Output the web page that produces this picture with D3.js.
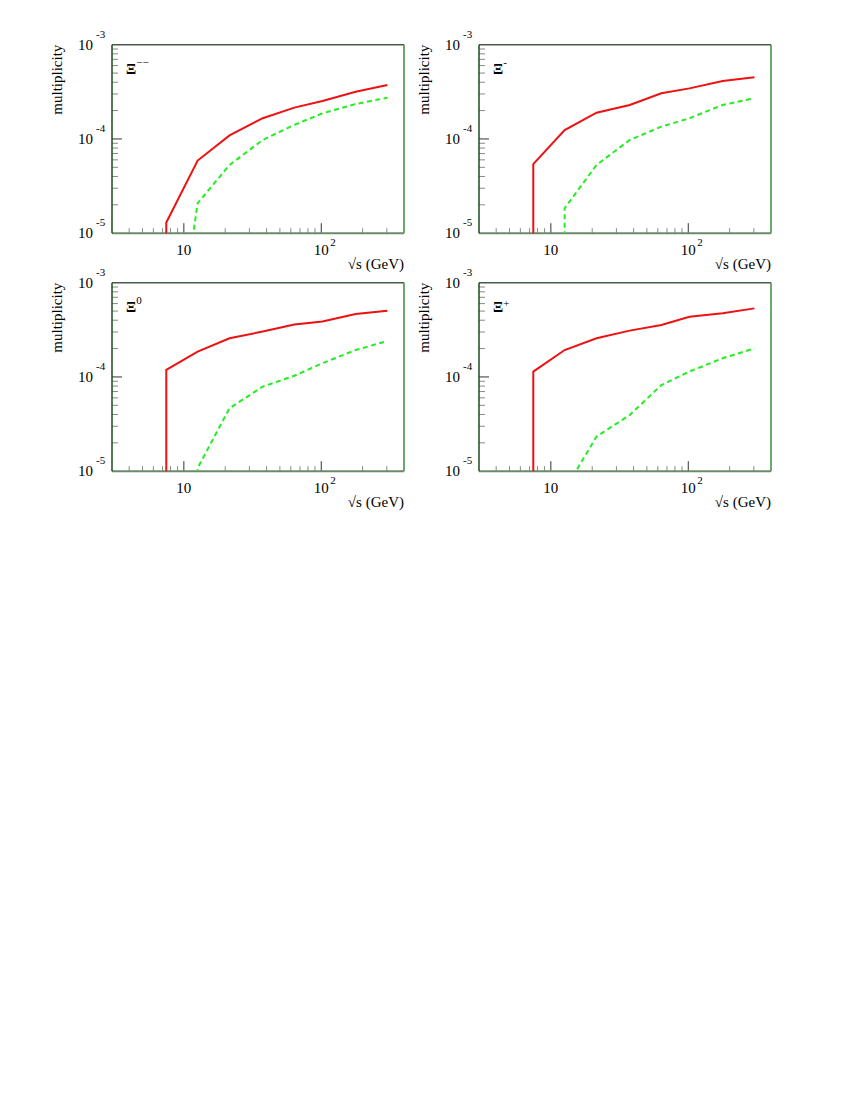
<!DOCTYPE html>
<html>
  <head>
    <meta charset="UTF-8" />
    <script src="https://cdn.jsdelivr.net/npm/d3@7"></script>
    <title>Xi multiplicity</title>
    <style type="text/css">
      body { margin: 0; background: #fff; }
      text { font-family: "Liberation Serif", "DejaVu Serif", serif; fill: #000; }
    </style>
  </head>
  <body>
    <div id="chartcontainer"></div>
    <script>
      // sqrt(s) points in GeV shared by all curves
      var sqrtS = [7.45, 12.6, 21.5, 37.5, 63.7, 102, 178, 303];

      // red solid curves (null = no value at that energy)
      var redXiMM = [1.3e-5, 5.9e-5, 1.09e-4, 1.66e-4, 2.15e-4, 2.53e-4, 3.17e-4, 3.73e-4];
      var redXiM = [5.4e-5, 1.24e-4, 1.9e-4, 2.29e-4, 3.05e-4, 3.44e-4, 4.12e-4, 4.51e-4];
      var redXi0 = [1.19e-4, 1.86e-4, 2.57e-4, 3.03e-4, 3.61e-4, 3.87e-4, 4.66e-4, 5.05e-4];
      var redXiP = [1.14e-4, 1.93e-4, 2.57e-4, 3.1e-4, 3.56e-4, 4.36e-4, 4.73e-4, 5.34e-4];

      // green dashed curves
      var greenXiMM = [1e-7, 2.08e-5, 5.3e-5, 9.75e-5, 1.41e-4, 1.87e-4, 2.35e-4, 2.74e-4];
      var greenXiM = [null, 1.84e-5, 5.3e-5, 9.75e-5, 1.35e-4, 1.66e-4, 2.29e-4, 2.7e-4];
      var greenXi0 = [null, 1.08e-5, 4.66e-5, 7.9e-5, 1.03e-4, 1.4e-4, 1.93e-4, 2.41e-4];
      var greenXiP = [null, 6.3e-6, 2.33e-5, 3.95e-5, 8.2e-5, 1.14e-4, 1.58e-4, 2.01e-4];

      var particles = ["\u2212\u2212", "-", "0", "+"];
      var yTickExp = [-3, -4, -5];

      var panels = [
        { left: 112, top: 44.7, label: particles[0], red: redXiMM, green: greenXiMM },
        { left: 479, top: 44.7, label: particles[1], red: redXiM, green: greenXiM },
        { left: 112, top: 282.7, label: particles[2], red: redXi0, green: greenXi0 },
        { left: 479, top: 282.7, label: particles[3], red: redXiP, green: greenXiP },
      ];

      var width = 292,
        height = 188.5;

      var svg = d3
        .select("#chartcontainer")
        .append("svg")
        .attr("width", 850)
        .attr("height", 1100);

      var x = d3.scaleLog().domain([3, 400]).range([0, width]);
      var y = d3.scaleLog().domain([1e-5, 1e-3]).range([height, 0]);

      var line = d3
        .line()
        .x(function (d) {
          return x(d[0]);
        })
        .y(function (d) {
          return y(d[1]);
        });

      // turn a value array into points; curve starts with a drop to the floor
      function toPoints(vals) {
        var pts = [];
        vals.forEach(function (v, i) {
          if (v !== null) pts.push([sqrtS[i], v]);
        });
        pts.unshift([pts[0][0], 1e-9]);
        return pts;
      }

      panels.forEach(function (p, k) {
        var g = svg
          .append("g")
          .attr("transform", "translate(" + p.left + "," + p.top + ")");

        g.append("clipPath")
          .attr("id", "clip" + k)
          .append("rect")
          .attr("width", width)
          .attr("height", height);

        // x ticks (inside, from the bottom)
        x.ticks()
          .filter(function (t) {
            return t > 3 && t < 400;
          })
          .forEach(function (t) {
            var major = Math.abs(Math.log10(t) - Math.round(Math.log10(t))) < 1e-9;
            g.append("line")
              .attr("x1", x(t))
              .attr("x2", x(t))
              .attr("y1", height)
              .attr("y2", height - (major ? 10 : 5))
              .attr("stroke", major ? "#333" : "#888")
              .attr("stroke-width", 1);
          });

        // y ticks (inside, from the left)
        y.ticks()
          .filter(function (t) {
            return t > 1e-5 && t < 1e-3;
          })
          .forEach(function (t) {
            var major = Math.abs(Math.log10(t) - Math.round(Math.log10(t))) < 1e-9;
            g.append("line")
              .attr("x1", 0)
              .attr("x2", major ? 10 : 6)
              .attr("y1", y(t))
              .attr("y2", y(t))
              .attr("stroke", major ? "#333" : "#888")
              .attr("stroke-width", 1);
          });

        // frame
        g.append("line").attr("x1", 0).attr("x2", width).attr("y1", 0).attr("y2", 0)
          .attr("stroke", "#4a5a4a").attr("stroke-width", 1.5);
        g.append("line").attr("x1", width).attr("x2", width).attr("y1", 0).attr("y2", height)
          .attr("stroke", "#3c8c3c").attr("stroke-width", 1.5);
        g.append("line").attr("x1", 0).attr("x2", width).attr("y1", height).attr("y2", height)
          .attr("stroke", "#6a8a6a").attr("stroke-width", 2);
        g.append("line").attr("x1", 0).attr("x2", 0).attr("y1", 0).attr("y2", height)
          .attr("stroke", "#1e4a1e").attr("stroke-width", 1.5);

        // curves
        var plot = g.append("g").attr("clip-path", "url(#clip" + k + ")");
        plot
          .append("path")
          .datum(toPoints(p.green))
          .attr("fill", "none")
          .attr("stroke", "#22ee22")
          .attr("stroke-width", 2)
          .attr("stroke-dasharray", "5,3.5")
          .attr("d", line);
        plot
          .append("path")
          .datum(toPoints(p.red))
          .attr("fill", "none")
          .attr("stroke", "#ee1111")
          .attr("stroke-width", 2)
          .attr("d", line);

        // y tick labels 10^-3 etc
        yTickExp.forEach(function (e) {
          var yy = y(Math.pow(10, e));
          g.append("text")
            .attr("x", -19)
            .attr("y", yy + 5)
            .attr("text-anchor", "end")
            .style("font-size", "15px")
            .text("10");
          g.append("text")
            .attr("x", -16)
            .attr("y", yy - 7)
            .style("font-size", "11px")
            .text(e);
        });

        // x tick labels
        g.append("text")
          .attr("x", x(10))
          .attr("y", height + 22)
          .attr("text-anchor", "middle")
          .style("font-size", "15px")
          .text("10");
        g.append("text")
          .attr("x", x(100))
          .attr("y", height + 22)
          .attr("text-anchor", "middle")
          .style("font-size", "15px")
          .text("10");
        g.append("text")
          .attr("x", x(100) + 9)
          .attr("y", height + 13)
          .style("font-size", "11px")
          .text("2");

        // axis titles
        g.append("text")
          .attr("x", width)
          .attr("y", height + 36)
          .attr("text-anchor", "end")
          .style("font-size", "15px")
          .text("\u221As (GeV)");
        g.append("text")
          .attr("transform", "translate(-50,0) rotate(-90)")
          .attr("text-anchor", "end")
          .style("font-size", "15px")
          .text("multiplicity");

        // particle label
        var lab = g
          .append("text")
          .attr("x", 14)
          .attr("y", 29)
          .style("font-size", "15px")
          .style("font-weight", "bold");
        lab.append("tspan").text("\u039E");
        lab.append("tspan")
          .attr("dy", p.label === "+" ? -5 : -8)
          .style("font-size", "11px")
          .style("font-weight", "normal")
          .text(p.label);
      });
    </script>
  </body>
</html>
